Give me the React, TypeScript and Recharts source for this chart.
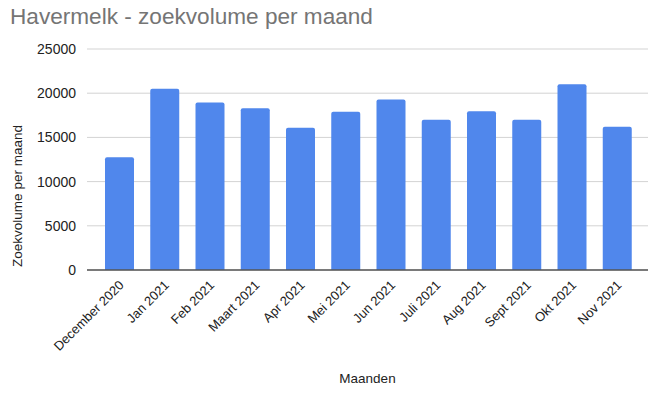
import { BarChart, Bar, XAxis, YAxis, CartesianGrid, ReferenceLine } from "recharts";

const months = [
  "December 2020",
  "Jan 2021",
  "Feb 2021",
  "Maart 2021",
  "Apr 2021",
  "Mei 2021",
  "Jun 2021",
  "Juli 2021",
  "Aug 2021",
  "Sept 2021",
  "Okt 2021",
  "Nov 2021",
];
const volumes = [12750, 20500, 18950, 18300, 16100, 17900, 19300, 17000, 17950, 17000, 21000, 16200];
const yTicks = [0, 5000, 10000, 15000, 20000, 25000];

const data = months.map((m, i) => ({ month: m, volume: volumes[i] }));

const font = "'Liberation Sans', Arial, sans-serif";

function MonthTick(props: any) {
  const { x, y, payload } = props;
  return (
    <g transform={`translate(${x + 5},${y + 8})`}>
      <text x={0} y={0} textAnchor="end" fontSize={13} fill="#222" fontFamily={font} transform="rotate(-45)">
        {payload.value}
      </text>
    </g>
  );
}

function YLabel() {
  return (
    <text
      x={0}
      y={0}
      transform="translate(22,196) rotate(-90)"
      textAnchor="middle"
      fontSize={13.5}
      fill="#222"
      fontFamily={font}
    >
      Zoekvolume per maand
    </text>
  );
}

export default function App() {
  return (
    <div style={{ position: "absolute", left: 0, top: 0, width: 655, height: 393, background: "#fff" }}>
      <div
        style={{
          position: "absolute",
          left: 10,
          top: 4,
          fontFamily: font,
          fontSize: 22.6,
          color: "#757575",
          whiteSpace: "nowrap",
        }}
      >
        Havermelk - zoekvolume per maand
      </div>
      <BarChart
        width={655}
        height={393}
        data={data}
        margin={{ top: 49, right: 7, left: 0, bottom: 0 }}
        barSize={29}
      >
        <CartesianGrid vertical={false} stroke="#d3d3d3" />
        <XAxis
          dataKey="month"
          interval={0}
          height={123}
          tickLine={false}
          axisLine={false}
          padding={{ left: 10, right: 8 }}
          tick={<MonthTick />}
          label={{ value: "Maanden", position: "insideBottom", offset: 10, fontSize: 13.5, fill: "#222", fontFamily: font }}
        />
        <YAxis
          width={87}
          domain={[0, 25000]}
          ticks={yTicks}
          tickLine={false}
          axisLine={false}
          tickMargin={5}
          tick={{ fontSize: 14, fill: "#222", fontFamily: font }}
          label={<YLabel />}
        />
        <Bar dataKey="volume" fill="#5087ec" radius={[2, 2, 0, 0]} isAnimationActive={false} />
        <ReferenceLine y={0} stroke="#555" strokeWidth={1.5} />
      </BarChart>
    </div>
  );
}
